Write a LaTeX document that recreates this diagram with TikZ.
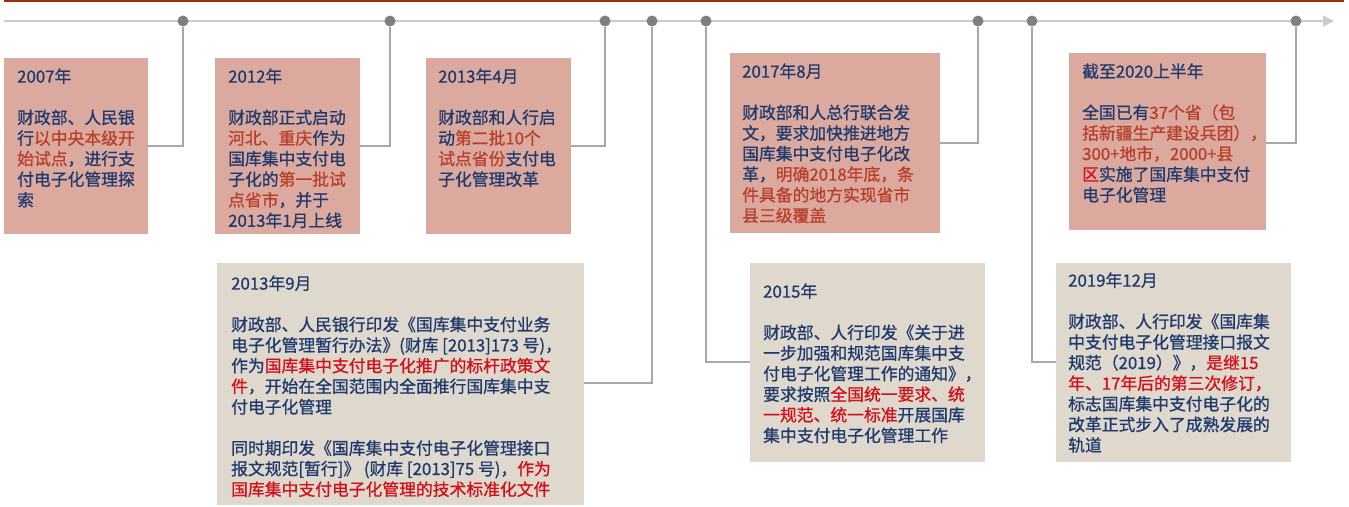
\documentclass[tikz,border=0pt]{standalone}
\usepackage{fontspec}
\setmainfont{Noto Sans CJK SC}[FakeBold=0.9]
\usetikzlibrary{arrows.meta}
\definecolor{navy}{HTML}{1F3A6E}
\definecolor{hlo}{HTML}{B8402A}
\definecolor{hlr}{HTML}{D0101A}
\definecolor{pinkbox}{HTML}{DBA99E}
\definecolor{beigebox}{HTML}{DFD8CD}
\definecolor{dotgray}{HTML}{7F7F7F}
\definecolor{tlgray}{HTML}{CBCBCB}
\definecolor{cngray}{HTML}{A8A8A8}
\definecolor{topred}{HTML}{A8290B}
\newcommand{\ho}[1]{\textcolor{hlo}{#1}}
\newcommand{\hr}[1]{\textcolor{hlr}{#1}}
\tikzset{
  pinkb/.style={fill=pinkbox, draw=none, inner sep=0pt, outer sep=0pt, anchor=north west},
  beigeb/.style={fill=beigebox, draw=none, inner sep=0pt, outer sep=0pt, anchor=north west},
  txt/.style={anchor=north west, inner sep=0pt, align=left, text=navy,
    font=\fontsize{16.8}{20.6}\selectfont},
  dotn/.style={circle, fill=dotgray, inner sep=0pt, minimum size=11pt},
  conn/.style={draw=cngray, line width=1.3pt},
}
\begin{document}
\begin{tikzpicture}[x=1pt, y=-1pt]
\useasboundingbox (0,0) rectangle (1349,506);
% top bar
\fill[topred] (4,0) rectangle (1344,2);
% timeline
\coordinate (tlstart) at (4,21);
\coordinate (tlend) at (1334,21);
\draw[tlgray, line width=1.6pt, -{Triangle[length=11pt, width=11pt]}] (tlstart) -- (tlend);
% dots
\node[dotn] (d1) at (183,21) {};
\node[dotn] (d2) at (390,21) {};
\node[dotn] (d3) at (605,21) {};
\node[dotn] (d4) at (652,21) {};
\node[dotn] (d5) at (706,21) {};
\node[dotn] (d6) at (978,21) {};
\node[dotn] (d7) at (1032,21) {};
\node[dotn] (d8) at (1296,21) {};
% boxes
\node[pinkb, minimum width=144pt, minimum height=176pt] (b1) at (4,58) {};
\node[pinkb, minimum width=145pt, minimum height=176pt] (b2) at (215,58) {};
\node[pinkb, minimum width=145pt, minimum height=176pt] (b3) at (426,58) {};
\node[pinkb, minimum width=210pt, minimum height=180pt] (b4) at (730,53) {};
\node[pinkb, minimum width=197pt, minimum height=177pt] (b5) at (1069,53) {};
\node[beigeb, minimum width=367pt, minimum height=242pt] (b6) at (217,263) {};
\node[beigeb, minimum width=235pt, minimum height=199pt] (b7) at (750,263) {};
\node[beigeb, minimum width=235pt, minimum height=199pt] (b8) at (1056,263) {};
% connectors
\draw[conn] (b1.east |- 0,146) -| (d1.south);
\draw[conn] (b2.east |- 0,146) -| (d2.south);
\draw[conn] (b3.east |- 0,146) -| (d3.south);
\draw[conn] (b4.east |- 0,143) -| (d6.south);
\draw[conn] (b5.east |- 0,143) -| (d8.south);
\draw[conn] (b6.east |- 0,383) -| (d4.south);
\draw[conn] (b7.west |- 0,362) -| (d5.south);
\draw[conn] (b8.west |- 0,362) -| (d7.south);
% texts
\node[txt] (t1) at (17,68) {\strut 2007年\\[20.6pt]
财政部、人民银\\行\ho{以中央本级开}\\\ho{始试点}，进行支\\付电子化管理探\\索};
\node[txt] (t2) at (228,68) {\strut 2012年\\[20.6pt]
财政部正式启动\\\ho{河北、重庆}作为\\国库集中支付电\\子化的\ho{第一批试}\\\ho{点省市}，并于\\2013年1月上线};
\node[txt] (t3) at (438,68) {\strut 2013年4月\\[20.6pt]
财政部和人行启\\动\ho{第二批10个}\\\ho{试点省份}支付电\\子化管理改革};
\node[txt] (t4) at (742,63) {\strut 2017年8月\\[20.6pt]
财政部和人总行联合发\\文，要求加快推进地方\\国库集中支付电子化改\\革，\ho{明确2018年底，条}\\\ho{件具备的地方实现省市}\\\ho{县三级覆盖}};
\node[txt] (t5) at (1082,63) {\strut 截至2020上半年\\[20.6pt]
全国已有\ho{37个省（包}\\\ho{括新疆生产建设兵团），}\\\ho{300+地市，2000+县}\\\hr{区}实施了国库集中支付\\电子化管理};
\node[txt] (t6) at (231,275) {\strut 2013年9月\\[20.6pt]
财政部、人民银行印发《国库集中支付业务\\电子化管理暂行办法》(财库 [2013]173 号)，\\作为\hr{国库集中支付电子化推广的标杆政策文}\\\hr{件}，开始在全国范围内全面推行国库集中支\\付电子化管理\\[20.6pt]
同时期印发《国库集中支付电子化管理接口\\报文规范[暂行]》 (财库 [2013]75 号)，\hr{作为}\\\hr{国库集中支付电子化管理的技术标准化文件}};
\node[txt] (t7) at (763,283) {\strut 2015年\\[20.6pt]
财政部、人行印发《关于进\\一步加强和规范国库集中支\\付电子化管理工作的通知》，\\要求按照\hr{全国统一要求、统}\\\hr{一规范、统一标准}开展国库\\集中支付电子化管理工作};
\node[txt] (t8) at (1068,272) {\strut 2019年12月\\[20.6pt]
财政部、人行印发《国库集\\中支付电子化管理接口报文\\规范（2019）》，\hr{是继15}\\\hr{年、17年后的第三次修订，}\\标志国库集中支付电子化的\\改革正式步入了成熟发展的\\轨道};
\end{tikzpicture}
\end{document}
